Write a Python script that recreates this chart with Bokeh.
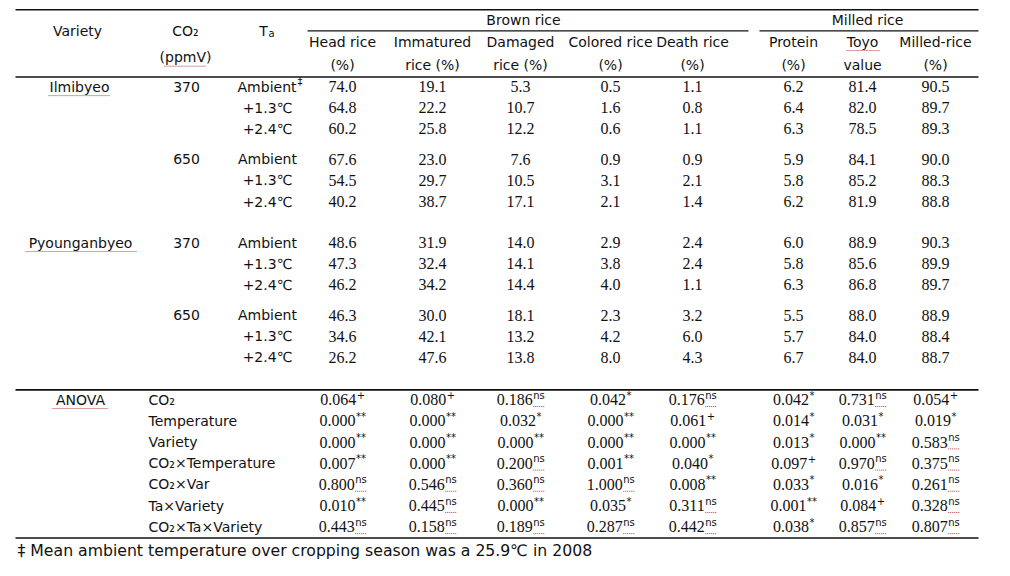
from bokeh.plotting import figure
from bokeh.models import ColumnDataSource, Range1d
from bokeh.core.properties import value
from bokeh.embed import file_html
from bokeh.resources import INLINE

# ---------------- data ----------------
varieties = ["Ilmibyeo", "Pyounganbyeo"]
co2_levels = ["370", "650"]
temperatures = ["Ambient", "+1.3℃", "+2.4℃"]

header_top = ["Head rice", "Immatured", "Damaged", "Colored rice", "Death rice",
              "Protein", "Toyo", "Milled-rice"]
header_bottom = ["(%)", "rice (%)", "rice (%)", "(%)", "(%)", "(%)", "value", "(%)"]

head_rice = [74.0, 64.8, 60.2, 67.6, 54.5, 40.2, 48.6, 47.3, 46.2, 46.3, 34.6, 26.2]
immatured = [19.1, 22.2, 25.8, 23.0, 29.7, 38.7, 31.9, 32.4, 34.2, 30.0, 42.1, 47.6]
damaged = [5.3, 10.7, 12.2, 7.6, 10.5, 17.1, 14.0, 14.1, 14.4, 18.1, 13.2, 13.8]
colored = [0.5, 1.6, 0.6, 0.9, 3.1, 2.1, 2.9, 3.8, 4.0, 2.3, 4.2, 8.0]
death = [1.1, 0.8, 1.1, 0.9, 2.1, 1.4, 2.4, 2.4, 1.1, 3.2, 6.0, 4.3]
protein = [6.2, 6.4, 6.3, 5.9, 5.8, 6.2, 6.0, 5.8, 6.3, 5.5, 5.7, 6.7]
toyo = [81.4, 82.0, 78.5, 84.1, 85.2, 81.9, 88.9, 85.6, 86.8, 88.0, 84.0, 84.0]
milled = [90.5, 89.7, 89.3, 90.0, 88.3, 88.8, 90.3, 89.9, 89.7, 88.9, 88.4, 88.7]

anova_factors = ["CO₂", "Temperature", "Variety", "CO₂×Temperature", "CO₂×Var",
                 "Ta×Variety", "CO₂×Ta×Variety"]
p_head = [0.064, 0.000, 0.000, 0.007, 0.800, 0.010, 0.443]
s_head = ["+", "**", "**", "**", "ns", "**", "ns"]
p_imm = [0.080, 0.000, 0.000, 0.000, 0.546, 0.445, 0.158]
s_imm = ["+", "**", "**", "**", "ns", "ns", "ns"]
p_dam = [0.186, 0.032, 0.000, 0.200, 0.360, 0.000, 0.189]
s_dam = ["ns", "*", "**", "ns", "ns", "**", "ns"]
p_col = [0.042, 0.000, 0.000, 0.001, 1.000, 0.035, 0.287]
s_col = ["*", "**", "**", "**", "ns", "*", "ns"]
p_dea = [0.176, 0.061, 0.000, 0.040, 0.008, 0.311, 0.442]
s_dea = ["ns", "+", "**", "*", "**", "ns", "ns"]
p_pro = [0.042, 0.014, 0.013, 0.097, 0.033, 0.001, 0.038]
s_pro = ["*", "*", "*", "+", "*", "**", "*"]
p_toy = [0.731, 0.031, 0.000, 0.970, 0.016, 0.084, 0.857]
s_toy = ["ns", "*", "**", "ns", "*", "+", "ns"]
p_mil = [0.054, 0.019, 0.583, 0.375, 0.261, 0.328, 0.807]
s_mil = ["+", "*", "ns", "ns", "ns", "ns", "ns"]

footnote = "‡ Mean ambient temperature over cropping season was a 25.9℃ in 2008"

# ---------------- layout ----------------
W, H = 994, 560
SANS = value("DejaVu Sans")
SERIF = value("Liberation Serif")
FS = "14px"
NUM_FS = "16px"
SUP_FS = "10px"
INK = "#111111"

col_x = [342, 432, 520, 610, 692, 793, 862, 935]
block_y = [88, 162, 247, 321]
row_step = 21.5
anova_y0, anova_step = 407, 21.6

p = figure(width=W, height=H, x_range=Range1d(0, W), y_range=Range1d(571, 0),
           output_backend="svg", toolbar_location=None, min_border=0)
p.axis.visible = False
p.grid.visible = False
p.outline_line_color = None
p.background_fill_color = "white"
p.border_fill_color = "white"


def txt(xs, ys, texts, font=SANS, size=FS, align="center", color=INK):
    src = ColumnDataSource(dict(x=list(xs), y=list(ys), t=list(texts)))
    p.text(x="x", y="y", text="t", source=src, text_font=font, text_font_size=size,
           text_align=align, text_baseline="middle", text_color=color)


def squiggle(x0, x1, y):
    p.segment(x0=[x0], y0=[y], x1=[x1], y1=[y], line_color="#b83a3a",
              line_width=1, line_dash="1 1")


# rules
p.segment(x0=[15, 15, 15, 15], x1=[978, 978, 978, 978],
          y0=[9.5, 78, 397, 548], y1=[9.5, 78, 397, 548],
          line_color=INK, line_width=1.6)
p.segment(x0=[307, 759], x1=[748, 978], y0=[31, 31], y1=[31, 31],
          line_color=INK, line_width=1.3)

# header
txt([77], [31], ["Variety"])
txt([185], [31], ["CO₂"])
txt([185], [58], ["(ppmV)"])
squiggle(164, 206, 67)
txt([263], [31], ["T"])
txt([271], [34], ["a"], size="10px")
txt([523], [20], ["Brown rice"])
txt([867], [20], ["Milled rice"])
txt(col_x, [42] * len(col_x), header_top)
txt(col_x, [66] * len(col_x), header_bottom)
squiggle(846, 879, 51)

# body
row_ys = [b + r * row_step for b in block_y for r in range(3)]
txt([79, 80], [block_y[0], block_y[2]], varieties)
squiggle(48, 110, 97)
squiggle(25, 136, 256)
txt([186] * 4, block_y, co2_levels * 2)
temp_labels = temperatures * 4
txt([267] * 11, row_ys[1:], temp_labels[1:])
txt([296], [row_ys[0]], [temperatures[0]], align="right")
txt([297], [row_ys[0] - 5], ["‡"], size="10px", align="left")

series = [head_rice, immatured, damaged, colored, death, protein, toyo, milled]
for cx, vals in zip(col_x, series):
    txt([cx] * len(vals), row_ys, [f"{v:.1f}" for v in vals], font=SERIF, size=NUM_FS)

# ANOVA
anova_ys = [anova_y0 + i * anova_step for i in range(len(anova_factors))]
txt([80], [anova_ys[0]], ["ANOVA"])
squiggle(52, 108, anova_ys[0] + 9)
txt([148] * len(anova_factors), anova_ys, anova_factors, align="left")

sup_w = {"ns": 11.5, "*": 5.0, "**": 10.0, "+": 8.4}
num_w = 36.0
pairs = [(p_head, s_head), (p_imm, s_imm), (p_dam, s_dam), (p_col, s_col),
         (p_dea, s_dea), (p_pro, s_pro), (p_toy, s_toy), (p_mil, s_mil)]
for cx, (pv, sv) in zip(col_x, pairs):
    xs_num, xs_sup = [], []
    for s in sv:
        sw = sup_w[s]
        right = cx + (num_w - sw) / 2.0
        xs_num.append(right)
        xs_sup.append(right + 0.5)
    txt(xs_num, anova_ys, [f"{v:.3f}" for v in pv], font=SERIF, size=NUM_FS, align="right")
    txt(xs_sup, [y - 4.5 for y in anova_ys], sv, size=SUP_FS, align="left")
    for xsup, s, y in zip(xs_sup, sv, anova_ys):
        if s == "ns":
            squiggle(xsup, xsup + 11, y + 7)

# footnote
txt([17], [561], [footnote], size="15.7px", align="left")

open("out.html", "w").write(file_html(p, INLINE))
